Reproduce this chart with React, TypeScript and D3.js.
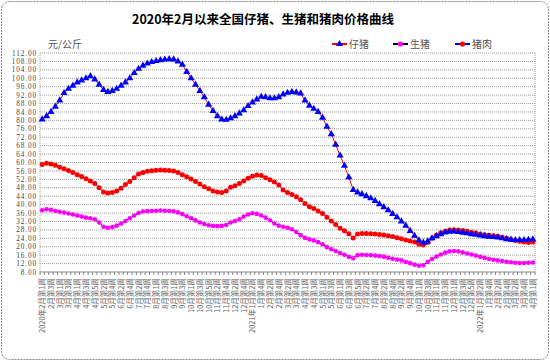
import React from "react";
import * as d3 from "d3";

// Month / week counts used to build the weekly category labels (2020-02 .. 2022-04 wk1)
const monthWeeks: [number, number, number][] = [
  [2020, 2, 4], [2020, 3, 4], [2020, 4, 5], [2020, 5, 4], [2020, 6, 4], [2020, 7, 5],
  [2020, 8, 4], [2020, 9, 4], [2020, 10, 5], [2020, 11, 4], [2020, 12, 4],
  [2021, 1, 4], [2021, 2, 4], [2021, 3, 5], [2021, 4, 4], [2021, 5, 4], [2021, 6, 5],
  [2021, 7, 4], [2021, 8, 4], [2021, 9, 5], [2021, 10, 4], [2021, 11, 4], [2021, 12, 5],
  [2022, 1, 4], [2022, 2, 4], [2022, 3, 5], [2022, 4, 1],
];

const yTicks = [8, 12, 16, 20, 24, 28, 32, 36, 40, 44, 48, 52, 56, 60, 64, 68, 72, 76, 80, 84, 88, 92, 96, 100, 104, 108, 112];

const piglet = [
  80.5, 82, 84, 86.5, 89.5, 93, 95, 96.5, 98, 99, 100, 101, 99.5, 97, 94.5, 93.5, 94, 95, 96.5, 98,
  100, 102.5, 104.5, 106, 107, 107.7, 108.2, 108.6, 108.9, 109.1, 109, 108, 106.5, 103, 100, 97, 94, 91, 87.5, 84.5,
  82, 80.5, 80.3, 81, 82, 83.3, 84.8, 86.8, 88.5, 90, 91.2, 91, 90.5, 90.5, 91, 92.3, 93.1, 93.5, 93.3, 92.8,
  89.5, 87, 85.5, 84, 81.3, 77, 73.5, 68.5, 63.3, 58.5, 53, 47, 45.8, 45, 44, 43, 41.8, 40.2, 38.8, 37.3,
  35.6, 34, 32, 30, 27.5, 25.2, 23, 21.9, 22.5, 24, 25, 26, 26.8, 27.2, 27.3, 27, 26.7, 26.4, 26, 25.7,
  25.4, 25, 24.8, 24.6, 24.4, 24, 23.6, 23.4, 23.2, 23.2, 23.2, 23.3, 23.5,
];

const hog = [
  37.3, 37.8, 37.5, 37, 36.6, 36.2, 35.8, 35.3, 34.8, 34.3, 33.8, 33.5, 33, 31.5, 29.5, 29, 29.3, 30, 31, 32.2,
  33.5, 34.8, 36, 36.7, 36.9, 37, 37.1, 37.2, 37.1, 37, 36.8, 36.3, 35.5, 34.5, 33.5, 32.5, 31.5, 30.8, 30.2, 29.9,
  29.8, 29.9, 30.3, 31.5, 32.2, 33, 34.3, 35.3, 35.9, 35.6, 34.8, 33.8, 32.6, 31, 30, 29.5, 29, 28.3, 27, 25.5,
  24.2, 23.5, 23, 22.2, 21.2, 19.8, 18.8, 18, 17, 16.2, 15.2, 14.5, 16, 16.2, 16.1, 16, 15.8, 15.6, 15.3, 14.8,
  14.3, 13.9, 13.5, 12.8, 12.2, 11.5, 11, 11.2, 12.8, 14.2, 15.3, 16.3, 17.2, 17.8, 18, 17.8, 17.3, 16.8, 16.3, 15.8,
  15.2, 14.7, 14.2, 13.8, 13.5, 13.2, 12.9, 12.6, 12.4, 12.3, 12.3, 12.4, 12.5,
];

const pork = [
  59, 59.7, 59.3, 58.7, 57.8, 57, 56.2, 55.2, 54.2, 53.3, 52.3, 51.2, 50, 48, 46, 45.5, 45.8, 46.5, 47.8, 49.5,
  51, 52.8, 54.5, 55.3, 55.8, 56.1, 56.3, 56.4, 56.3, 56.2, 56, 55.2, 54.2, 53.2, 52.2, 51, 49.8, 48.5, 47.5, 46.5,
  46, 45.7, 46.5, 48.2, 49, 50, 51.2, 52.5, 53.5, 54.1, 53.8, 52.8, 51.8, 50.7, 49.3, 47, 45.8, 44.8, 43.7, 42.3,
  40.5, 39, 38.2, 37, 35.8, 34, 32.2, 30.5, 28.8, 27.6, 26.2, 24.2, 26, 26.3, 26.3, 26.2, 26, 25.8, 25.6, 25.2,
  24.8, 24.3, 23.8, 23.2, 22.7, 22.2, 21.2, 20.8, 22, 24, 25.5, 26.6, 27.3, 27.9, 28.1, 28, 27.7, 27.3, 26.9, 26.5,
  26.1, 25.7, 25.4, 25.2, 25, 24.5, 24, 23.5, 23, 22.6, 22.2, 22, 22.3,
];

const seriesNames = ["仔猪", "生猪", "猪肉"];
const titleText = "2020年2月以来全国仔猪、生猪和猪肉价格曲线";
const unitText = "元/公斤";

function buildCategories(): { text: string; year: number }[] {
  const cats: { text: string; year: number }[] = [];
  monthWeeks.forEach(([y, m, n]) => {
    for (let w = 1; w <= n; w++) cats.push({ text: `${m}月第${w}周`, year: y });
  });
  return cats;
}

export default function App() {
  const W = 550, H = 361;
  const left = 40, right = 535, top = 53, bottom = 272;
  const categories = buildCategories();
  const x = d3.scaleBand<number>().domain(categories.map((_, i) => i)).range([left, right]).padding(0);
  const cx = (i: number) => (x(i) as number) + x.bandwidth() / 2;
  const y = d3.scaleLinear().domain([8, 112]).range([bottom, top]);

  const line = d3.line<number>().x((_, i) => cx(i)).y((d) => y(d));

  const labels: { i: number; text: string }[] = [];
  let shownYear = 0;
  categories.forEach((c, i) => {
    if (i % 2 !== 0) return;
    let t = c.text;
    if (c.year !== shownYear) { t = `${c.year}年` + t; shownYear = c.year; }
    labels.push({ i, text: t });
  });

  const tri = d3.symbol().type(d3.symbolTriangle).size(22)();

  const font = "'Liberation Serif', serif";
  const cjk = "'Noto Sans CJK SC', sans-serif";

  return (
    <div style={{ position: "absolute", left: 0, top: 0 }}>
      <svg width={W} height={H} style={{ display: "block", background: "#fff" }}>
        <rect x={1.5} y={1.5} width={W - 3} height={H - 3} rx={8} fill="#fff" stroke="#888" strokeDasharray="2,1" />
        <text x={263} y={24} textAnchor="middle" fontFamily={cjk} fontWeight="bold" fontSize={12.5} fill="#000">
          {titleText}
        </text>
        <text x={48} y={48} fontFamily={cjk} fontSize={10} fill="#555">{unitText}</text>

        {/* legend */}
        {[
          { lx: 332, line: "#ff0000", mk: "tri", mc: "#0000ff" },
          { lx: 393, line: "#000000", mk: "circ", mc: "#ff00ff" },
          { lx: 455, line: "#0000ff", mk: "circ", mc: "#ff0000" },
        ].map((l, k) => (
          <g key={k}>
            <line x1={l.lx} x2={l.lx + 15} y1={44} y2={44} stroke={l.line} strokeWidth={2} />
            {l.mk === "tri" ? (
              <path d={tri} transform={`translate(${l.lx + 7.5},44)`} fill={l.mc} />
            ) : (
              <circle cx={l.lx + 7.5} cy={44} r={2.6} fill={l.mc} />
            )}
            <text x={l.lx + 17} y={48} fontFamily={cjk} fontSize={10} fill="#555">{seriesNames[k]}</text>
          </g>
        ))}

        {/* grid */}
        {yTicks.map((t) => (
          <g key={t}>
            {t > 8 && (
              <line x1={left} x2={right} y1={y(t)} y2={y(t)} stroke="#999" strokeDasharray="1,1" />
            )}
            <text x={37} y={y(t) + 2.6} textAnchor="end" fontFamily={font} fontSize={7.2} letterSpacing={0.9} fill="#444">
              {t.toFixed(2)}
            </text>
          </g>
        ))}
        <line x1={left} x2={left} y1={top} y2={bottom} stroke="#999" strokeDasharray="1,1" />
        <line x1={right} x2={right} y1={top} y2={bottom} stroke="#999" strokeDasharray="1,1" />
        <line x1={left} x2={right} y1={bottom} y2={bottom} stroke="#888" />
        {categories.map((_, i) => (
          <line key={i} x1={x(i) as number} x2={x(i) as number} y1={bottom} y2={bottom + 3} stroke="#888" />
        ))}
        <line x1={right} x2={right} y1={bottom} y2={bottom + 3} stroke="#888" />

        {/* x labels */}
        {labels.map((l) => (
          <text
            key={l.i}
            transform={`translate(${cx(l.i) + 3},${bottom + 6}) rotate(-90)`}
            textAnchor="end"
            fontFamily={cjk}
            fontSize={7.5}
            fill="#666"
          >
            {l.text}
          </text>
        ))}

        {/* series */}
        <path d={line(hog) || ""} fill="none" stroke="#000" strokeWidth={1} />
        {hog.map((v, i) => (
          <circle key={i} cx={cx(i)} cy={y(v)} r={2.3} fill="#ff00ff" />
        ))}
        <path d={line(pork) || ""} fill="none" stroke="#0000ff" strokeWidth={1} />
        {pork.map((v, i) => (
          <circle key={i} cx={cx(i)} cy={y(v)} r={2.5} fill="#ff0000" />
        ))}
        <path d={line(piglet) || ""} fill="none" stroke="#ff0000" strokeWidth={1} />
        {piglet.map((v, i) => (
          <path key={i} d={tri} transform={`translate(${cx(i)},${y(v)})`} fill="#0000ff" />
        ))}
      </svg>
    </div>
  );
}
